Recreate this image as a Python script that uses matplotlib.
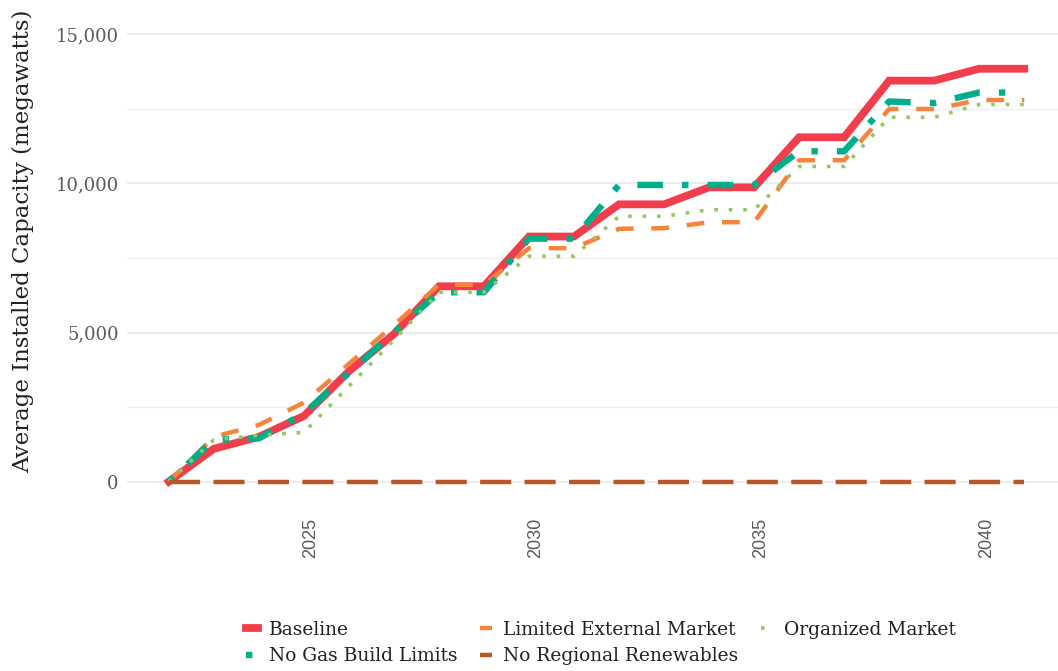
import matplotlib
matplotlib.use("Agg")
import matplotlib.pyplot as plt
import matplotlib.transforms as mtransforms
from matplotlib.ticker import FuncFormatter, MultipleLocator

# Data (MW, yearly)
years = list(range(2022, 2042))
baseline = [0, 1100, 1500, 2200, 3700, 4950, 6550, 6550, 8220, 8220,
            9300, 9300, 9870, 9870, 11550, 11550, 13450, 13450, 13850, 13850]
limited_ext = [0, 1500, 1900, 2650, 3950, 5250, 6600, 6600, 7830, 7830,
               8480, 8500, 8700, 8700, 10780, 10780, 12500, 12500, 12800, 12800]
organized = [0, 1400, 1550, 1650, 3200, 4750, 6350, 6350, 7560, 7560,
             8900, 8900, 9120, 9120, 10570, 10570, 12220, 12220, 12650, 12650]
no_gas_limits = [0, 1400, 1450, 2280, 3650, 5000, 6350, 6350, 8150, 8150,
                 9950, 9950, 9950, 9950, 11080, 11080, 12750, 12700, 13050, 13050]
no_regional = [0] * len(years)

serif = "DejaVu Serif"

fig = plt.figure(figsize=(10.58, 6.71), dpi=100)
ax = fig.add_axes([0.12, 0.249, 0.88, 0.733])

# line styles follow ggplot's solid / dashed / dotted / dotdash / longdash
l_base, = ax.plot(years, baseline, color="#F23D4C", lw=5.6, solid_joinstyle="miter",
                  label="Baseline")
l_lim, = ax.plot(years, limited_ext, color="#F8833A", lw=3.2, dashes=(4, 4),
                 label="Limited External Market")
l_gas, = ax.plot(years, no_gas_limits, color="#00AF8A", lw=4.6, dashes=(1, 3, 4, 3),
                 label="No Gas Build Limits")
l_org, = ax.plot(years, organized, color="#96C760", lw=2.6, dashes=(1, 3),
                 label="Organized Market")
l_reg, = ax.plot(years, no_regional, color="#B5582B", lw=3.2, dashes=(7, 3),
                 label="No Regional Renewables")

ax.set_xlim(2021.07, 2041.75)
ax.set_ylim(-750, 15750)
ax.set_xticks([2025, 2030, 2035, 2040])
ax.yaxis.set_major_locator(MultipleLocator(5000))
ax.yaxis.set_minor_locator(MultipleLocator(2500))
ax.yaxis.set_major_formatter(FuncFormatter(lambda v, p: f"{int(v):,}"))

ax.grid(axis="y", which="major", color="#EBEBEB", lw=1.3)
ax.grid(axis="y", which="minor", color="#EFEFEF", lw=0.9)
ax.set_axisbelow(True)
for s in ax.spines.values():
    s.set_visible(False)
ax.tick_params(axis="both", which="both", length=0)
ax.tick_params(axis="y", pad=6, labelsize=13, labelcolor="#5A5A5A")
ax.tick_params(axis="x", pad=10, labelsize=13, labelcolor="#5A5A5A", labelrotation=90)
for lbl in ax.get_yticklabels():
    lbl.set_family(serif)
for lbl in ax.get_xticklabels():
    lbl.set_family("Liberation Sans")
    lbl.set_transform(lbl.get_transform() +
                      mtransforms.ScaledTranslation(7 / 100, 0, fig.dpi_scale_trans))

fig.text(0.022, 0.64, "Average Installed Capacity (megawatts)", rotation=90,
         ha="center", va="center", fontsize=16.5, family=serif, color="#222222")

# legend fills column-major, reorder to read row-wise like the reference
handles = [l_base, l_gas, l_lim, l_reg, l_org]
leg = fig.legend(handles, [h.get_label() for h in handles], ncol=3,
                 loc="center", bbox_to_anchor=(0.568, 0.0415), frameon=False,
                 prop={"family": serif, "size": 13.4}, handlelength=0.65,
                 handletextpad=0.6, columnspacing=1.2, labelspacing=0.45)
for t in leg.get_texts():
    t.set_color("#222222")

fig.savefig("out.png", dpi=100)
